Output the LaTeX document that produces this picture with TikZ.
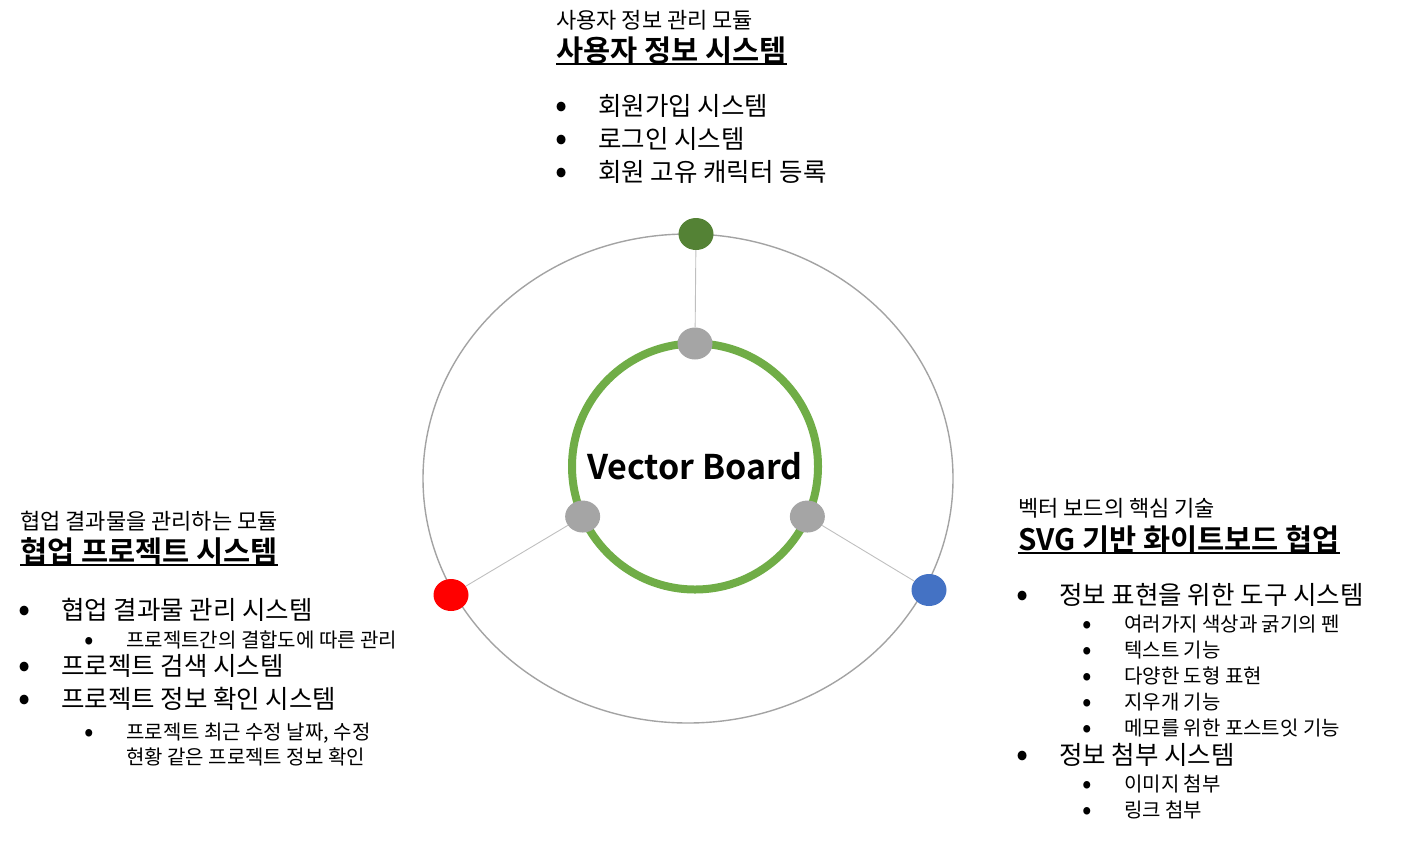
\documentclass[tikz,border=0pt]{standalone}
\usepackage{fontspec}
\setmainfont{Noto Sans CJK KR}[BoldFont={Noto Sans CJK KR Bold}]
\usetikzlibrary{shapes.geometric,positioning}
\definecolor{leafgreen}{RGB}{84,130,53}
\definecolor{ringgreen}{RGB}{112,173,71}
\definecolor{knobgray}{RGB}{165,165,165}
\definecolor{pinred}{RGB}{255,0,0}
\definecolor{pinblue}{RGB}{68,114,196}
\newcommand{\Bul}{\makebox[0pt]{\raisebox{-0.1em}{\scalebox{1.4}{\textbullet}}}\hspace{37pt}}

\begin{document}
\begin{tikzpicture}[x=1pt,y=-1pt,
    hub/.style={circle,draw=ringgreen,line width=8pt,minimum size=246pt,inner sep=0pt,outer sep=0pt,
      font=\fontsize{34}{38}\selectfont\bfseries},
    knob/.style={ellipse,fill=knobgray,minimum width=35pt,minimum height=32pt,inner sep=0pt},
    pin/.style={ellipse,minimum width=35pt,minimum height=32pt,inner sep=0pt},
    rim/.style={draw=black!36,line width=1.4pt},
    spoke/.style={draw=black!25,line width=0.9pt},
    note/.style={anchor=base west,inner sep=0pt,font=\fontsize{22}{26}\selectfont},
    head/.style={anchor=base west,inner sep=0pt,text depth=0.24em,font=\fontsize{29.5}{34}\selectfont\bfseries},
    item/.style={anchor=base west,inner sep=0pt,text height=0.84em,text depth=0.1em,
      font=\fontsize{25.5}{30}\selectfont},
    subitem/.style={anchor=base west,inner sep=0pt,text height=0.84em,text depth=0.1em,
      font=\fontsize{20}{24}\selectfont},
    uline/.style={line width=2pt}
  ]
    \useasboundingbox (0,0) rectangle (1412,841);

    % rings and pins
    \draw[rim] (688,478.5) ellipse [x radius=265pt, y radius=244.5pt];
    \node[hub] (hub) at (695,466.5) {Vector Board};
    \node[knob] (ktop) at (hub.90) {};
    \node[knob] (kleft) at (hub.204) {};
    \node[knob] (kright) at (hub.336) {};
    \node[pin,fill=leafgreen] (ptop) at (696,234) {};
    \node[pin,fill=pinred] (pleft) at (451,595) {};
    \node[pin,fill=pinblue] (pright) at (929,590) {};
    \draw[spoke] (ptop) -- (ktop);
    \draw[spoke] (pleft) -- (kleft);
    \draw[spoke] (pright) -- (kright);

    % user info
    \node[note] (usub) at (556,28) {사용자 정보 관리 모듈};
    \node[head] (uhead) at (556,61) {사용자 정보 시스템};
    \draw[uline] (uhead.south west) -- (uhead.south east);
    \node[item] (u1) at (561,115) {\Bul 회원가입 시스템};
    \node[item] (u2) at (561,148) {\Bul 로그인 시스템};
    \node[item] (u3) at (561,181) {\Bul 회원 고유 캐릭터 등록};

    % project
    \node[note] (psub) at (20,529) {협업 결과물을 관리하는 모듈};
    \node[head] (phead) at (20,562) {협업 프로젝트 시스템};
    \draw[uline] (phead.south west) -- (phead.south east);
    \node[item] (p1) at (24,619) {\Bul 협업 결과물 관리 시스템};
    \node[subitem] (p11) at (89,647) {\Bul 프로젝트간의 결합도에 따른 관리};
    \node[item] (p2) at (24,675) {\Bul 프로젝트 검색 시스템};
    \node[item] (p3) at (24,708) {\Bul 프로젝트 정보 확인 시스템};
    \node[subitem] (p31) at (89,739) {\Bul 프로젝트 최근 수정 날짜, 수정};
    \node[subitem] (p32) at (126,764) {현황 같은 프로젝트 정보 확인};

    % whiteboard
    \node[note] (vsub) at (1018,516) {벡터 보드의 핵심 기술};
    \node[head] (vhead) at (1018,550) {SVG 기반 화이트보드 협업};
    \draw[uline] (vhead.south west) -- (vhead.south east);
    \node[item] (v1) at (1022,604) {\Bul 정보 표현을 위한 도구 시스템};
    \node[subitem] (v11) at (1087,631) {\Bul 여러가지 색상과 굵기의 펜};
    \node[subitem] (v12) at (1087,657) {\Bul 텍스트 기능};
    \node[subitem] (v13) at (1087,683) {\Bul 다양한 도형 표현};
    \node[subitem] (v14) at (1087,709) {\Bul 지우개 기능};
    \node[subitem] (v15) at (1087,735) {\Bul 메모를 위한 포스트잇 기능};
    \node[item] (v2) at (1022,764) {\Bul 정보 첨부 시스템};
    \node[subitem] (v21) at (1087,791) {\Bul 이미지 첨부};
    \node[subitem] (v22) at (1087,817) {\Bul 링크 첨부};
  \end{tikzpicture}
\end{document}
